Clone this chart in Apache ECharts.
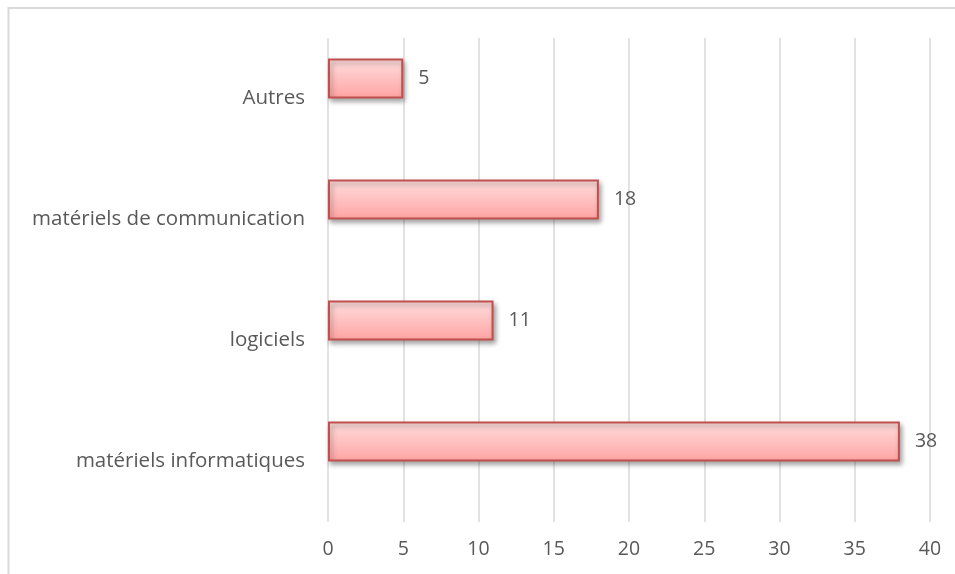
<!DOCTYPE html>
<html>
<head>
<meta charset="utf-8">
<script src="https://cdn.jsdelivr.net/npm/echarts@6/dist/echarts.min.js"></script>
<style>
html,body{margin:0;padding:0;background:#fff;}
#c{width:955px;height:574px;}
</style>
</head>
<body>
<div id="c"></div>
<script>
const categories = ["matériels informatiques", "logiciels", "matériels de communication", "Autres"];
const values = [38, 11, 18, 5];
const emptyValues = [null, null, null, null];
const xTicks = [0, 5, 10, 15, 20, 25, 30, 35, 40];

const chart = echarts.init(document.getElementById('c'), null, {renderer: 'canvas'});
const font = "'Open Sans', 'Liberation Sans', sans-serif";
chart.setOption({
  animation: false,
  backgroundColor: '#ffffff',
  graphic: [{
    type: 'rect',
    shape: {x: 8.5, y: 8, width: 960, height: 580},
    style: {fill: 'none', stroke: '#d9d9d9', lineWidth: 2},
    silent: true,
    z: -1
  }],
  grid: {left: 328, right: 25, top: 38, bottom: 52, containLabel: false},
  xAxis: {
    type: 'value',
    min: xTicks[0],
    max: xTicks[xTicks.length - 1],
    interval: 5,
    axisLine: {show: false},
    axisTick: {show: false},
    splitLine: {show: true, lineStyle: {color: '#d9d9d9', width: 1.5}},
    axisLabel: {color: '#595959', fontSize: 19.5, fontFamily: font, margin: 17}
  },
  yAxis: {
    type: 'category',
    data: categories,
    axisLine: {show: false},
    axisTick: {show: false},
    splitLine: {show: false},
    axisLabel: {color: '#595959', fontSize: 20.5, fontFamily: font, margin: 23}
  },
  series: [{
    type: 'bar',
    data: values,
    barWidth: 40,
    barGap: '0%',
    itemStyle: {
      color: new echarts.graphic.LinearGradient(0, 0, 0, 1, [
        {offset: 0, color: '#ffdede'},
        {offset: 1, color: '#ffa3a3'}
      ]),
      borderColor: '#c0504d',
      borderWidth: 2,
      shadowColor: 'rgba(0,0,0,0.35)',
      shadowBlur: 5,
      shadowOffsetX: 2,
      shadowOffsetY: 3
    },
    label: {
      show: true,
      position: 'right',
      distance: 15,
      color: '#595959',
      fontSize: 19.5,
      fontFamily: font
    }
  }, {
    type: 'bar',
    data: emptyValues,
    barWidth: 40,
    barGap: '0%',
    silent: true
  }]
});
</script>
</body>
</html>
